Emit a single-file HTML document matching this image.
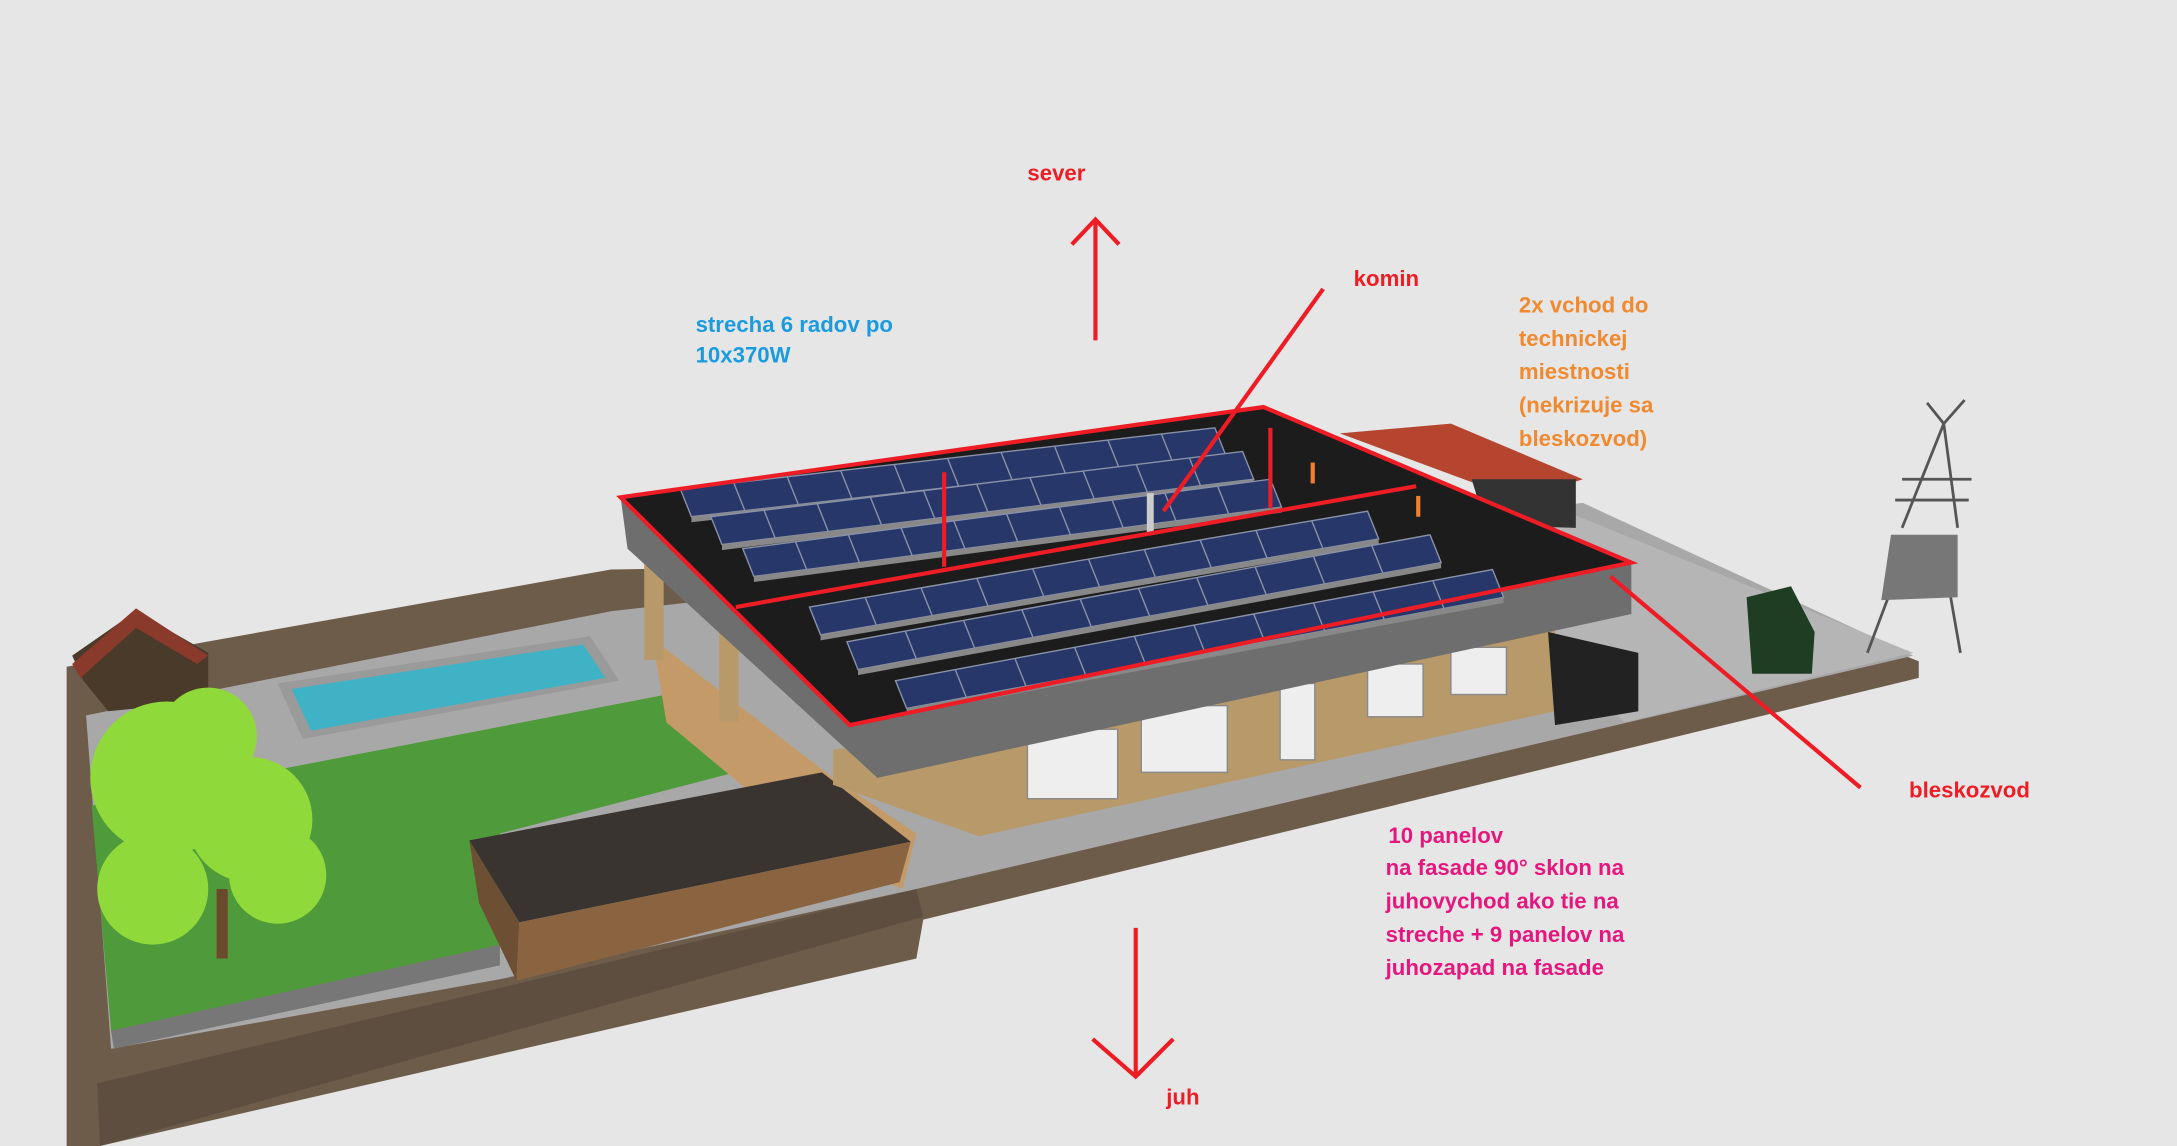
<!DOCTYPE html>
<html><head><meta charset="utf-8"><style>
html,body{margin:0;padding:0;background:#e6e6e6;overflow:hidden}
svg{display:block}
text{font-family:"Liberation Sans",sans-serif;font-weight:bold;font-size:16px}
</style></head><body>
<svg id="s" width="2177" height="1146" viewBox="0 0 1568 825" preserveAspectRatio="none" xmlns="http://www.w3.org/2000/svg">
<rect width="1568" height="825" fill="#e6e6e6"/>
<!-- ground / walls -->
<polygon points="48,480 440,410 1180,398 1382,476 1382,488 665,662 660,690 72,825 48,825" fill="#6e5c4b"/>
<polygon points="70,780 660,640 665,660 72,825" fill="#5e4e40"/>
<polygon points="62,515 440,440 1140,362 1378,472 660,640 360,705 80,755" fill="#a8a8a8"/>
<polygon points="1120,365 1378,470 1170,520 1120,470" fill="#b5b5b5"/>
<!-- grass -->
<polygon points="66,580 480,500 545,552 360,600 360,690 80,742" fill="#4f9a3a"/>
<!-- pool -->
<polygon points="200,492 425,458 446,490 218,532" fill="#9a9a9a"/>
<polygon points="210,496 420,464 436,488 224,526" fill="#3fb2c6"/>
<!-- deck -->
<polygon points="470,460 600,560 660,600 650,640 600,620 480,520" fill="#c49a68"/>
<!-- fence -->
<polygon points="80,742 360,680 360,695 82,755" fill="#777"/>
<!-- shed -->
<polygon points="338,605 592,556 656,606 374,664" fill="#3a3430"/>
<polygon points="374,664 656,606 648,635 372,706" fill="#8a6440"/>
<polygon points="338,605 374,664 372,706 345,650" fill="#6d4f33"/>
<!-- doghouse -->
<polygon points="52,472 98,440 150,470 150,505 78,512 60,490" fill="#4a3a2a"/>
<polygon points="52,478 98,438 150,472 142,478 98,452 58,488" fill="#8a3a2a"/>
<!-- tree -->
<g fill="#8fd93a">
<circle cx="120" cy="560" r="55"/><circle cx="180" cy="590" r="45"/><circle cx="110" cy="640" r="40"/><circle cx="200" cy="630" r="35"/><circle cx="150" cy="530" r="35"/>
</g>
<rect x="156" y="640" width="8" height="50" fill="#6a4a2a"/>
<!-- house walls -->
<polygon points="600,540 1120,452 1120,512 705,602 600,565" fill="#b89a6a"/>
<polygon points="1115,455 1180,470 1180,512 1120,522" fill="#222"/>
<g fill="#eee" stroke="#888"><rect x="740" y="525" width="65" height="50"/><rect x="822" y="508" width="62" height="48"/><rect x="985" y="478" width="40" height="38"/><rect x="1045" y="466" width="40" height="34"/><rect x="922" y="492" width="25" height="55"/></g>
<rect x="464" y="405" width="14" height="70" fill="#b89a6a"/><rect x="518" y="440" width="14" height="80" fill="#b89a6a"/>
<!-- carport -->
<polygon points="965,312 1045,305 1140,345 1095,360" fill="#b5452f"/>
<polygon points="1060,345 1135,345 1135,380 1070,378" fill="#333"/>
<!-- roof fascia -->
<polygon points="447,358 612,522 1175,405 1175,442 632,560 452,395" fill="#6e6e6e"/>
<polygon points="447,358 910,293 1175,405 612,522" fill="#1c1c1c"/>
<g id="panels"></g>
<rect x="826" y="355" width="5" height="30" fill="#ccc"/>
<!-- tower -->
<g stroke="#555" stroke-width="2" fill="none">
<polyline points="1388,290 1400,305 1415,288"/><line x1="1400" y1="305" x2="1370" y2="380"/><line x1="1400" y1="305" x2="1410" y2="380"/>
<line x1="1370" y1="345" x2="1420" y2="345"/><line x1="1365" y1="360" x2="1418" y2="360"/>
<line x1="1360" y1="430" x2="1345" y2="470"/><line x1="1405" y1="430" x2="1412" y2="470"/>
</g>
<polygon points="1362,385 1410,385 1410,430 1355,432" fill="#777"/>
<!-- car -->
<polygon points="1258,430 1290,422 1307,455 1305,485 1262,485" fill="#1f3d22"/>
<!-- red lines -->
<g stroke="#ee1c25" stroke-width="3" fill="none">
<polygon points="447,358 910,293 1175,405 612,522"/>
<line x1="530" y1="437" x2="1020" y2="350"/>
<line x1="680" y1="340" x2="680" y2="408"/>
<line x1="915" y1="308" x2="915" y2="366"/>
<line x1="789" y1="245" x2="789" y2="158"/><polyline points="772,176 789,158 806,176"/>
<line x1="818" y1="668" x2="818" y2="775"/><polyline points="787,748 818,775 845,748"/>
<line x1="953" y1="208" x2="838" y2="368"/>
<line x1="1160" y1="415" x2="1340" y2="567"/>
</g>
<rect x="944" y="333" width="3" height="15" fill="#f08030"/><rect x="1020" y="357" width="3" height="15" fill="#f08030"/>
<!-- labels -->
<g fill="#ee1c25"><text x="740" y="130">sever</text><text x="975" y="206">komin</text><text x="1375" y="574">bleskozvod</text><text x="840" y="795">juh</text></g>
<g fill="#1a9be0"><text x="501" y="239">strecha 6 radov po</text><text x="501" y="261">10x370W</text></g>
<g fill="#f08a30"><text x="1094" y="225">2x vchod do</text><text x="1094" y="249">technickej</text><text x="1094" y="273">miestnosti</text><text x="1094" y="297">(nekrizuje sa</text><text x="1094" y="321">bleskozvod)</text></g>
<g fill="#e5177e"><text x="1000" y="607">10 panelov</text><text x="998" y="630">na fasade 90° sklon na</text><text x="998" y="654">juhovychod ako tie na</text><text x="998" y="678">streche + 9 panelov na</text><text x="998" y="702">juhozapad na fasade</text></g>
</svg>
<script>
var rows=[[490,352,875,308],[512,372,895,325],[535,395,915,345],[583,437,985,368],[610,462,1030,385],[645,490,1075,410]];
var g=document.getElementById('panels'),h='';
rows.forEach(function(r){var x1=r[0],y1=r[1],x2=r[2],y2=r[3],H=20;
h+='<polygon points="'+x1+','+y1+' '+x2+','+y2+' '+(x2+8)+','+(y2+H)+' '+(x1+8)+','+(y1+H)+'" fill="#27376a" stroke="#8a92a8" stroke-width="1"/>';
for(var i=1;i<10;i++){var t=i/10,x=x1+(x2-x1)*t,y=y1+(y2-y1)*t;h+='<line x1="'+x+'" y1="'+y+'" x2="'+(x+8)+'" y2="'+(y+H)+'" stroke="#8a92a8"/>';}
h+='<polygon points="'+(x1+8)+','+(y1+H)+' '+(x2+8)+','+(y2+H)+' '+(x2+8)+','+(y2+H+4)+' '+(x1+8)+','+(y1+H+4)+'" fill="#888"/>';});
g.innerHTML=h;
</script>
</body></html>
